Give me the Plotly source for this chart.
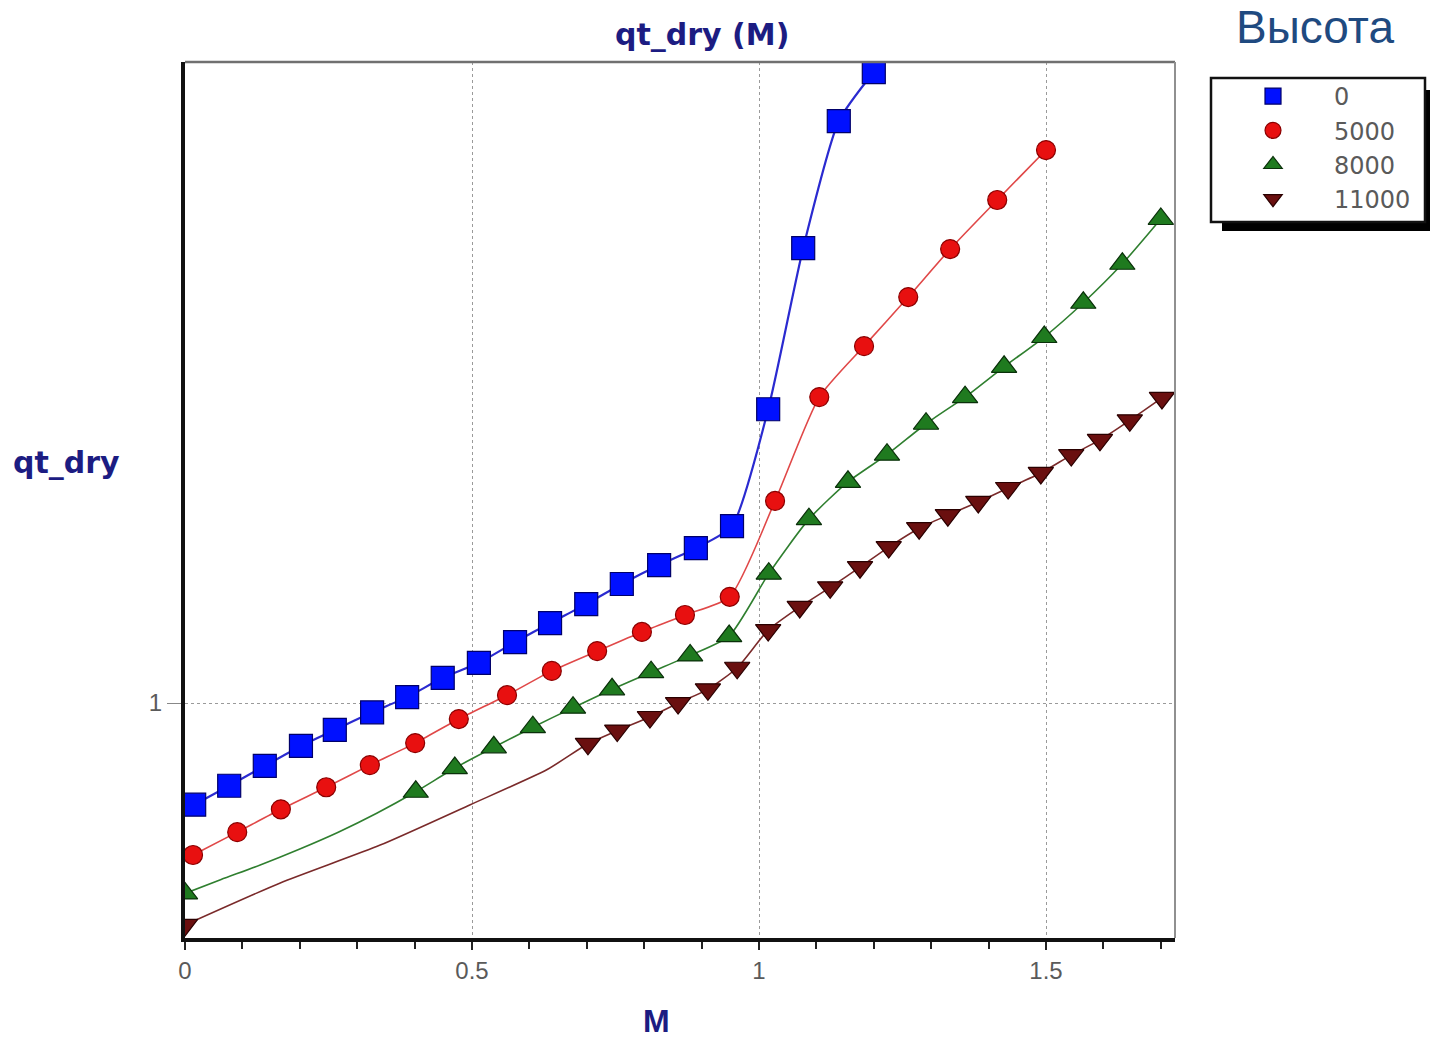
import plotly.graph_objects as go

# Mach number / qt_dry readings for four altitudes
alt_labels = ["0", "5000", "8000", "11000"]

m_0 = [0.016, 0.077, 0.139, 0.202, 0.261, 0.326, 0.387, 0.449, 0.512, 0.575,
       0.636, 0.699, 0.761, 0.826, 0.890, 0.953, 1.016, 1.077, 1.139, 1.200]
q_0 = [0.857, 0.882, 0.909, 0.937, 0.960, 0.986, 1.009, 1.039, 1.063, 1.097,
       1.129, 1.162, 1.198, 1.233, 1.265, 1.308, 1.562, 1.995, 2.419, 2.606]

m_5000 = [0.014, 0.091, 0.167, 0.246, 0.322, 0.401, 0.477, 0.561, 0.639, 0.718,
          0.796, 0.871, 0.949, 1.028, 1.105, 1.183, 1.260, 1.333, 1.415, 1.500]
q_5000 = [0.794, 0.822, 0.851, 0.880, 0.910, 0.941, 0.976, 1.012, 1.050, 1.082,
          1.114, 1.143, 1.175, 1.359, 1.591, 1.719, 1.852, 1.992, 2.146, 2.315]

m_8000 = [0.000, 0.063, 0.131, 0.199, 0.267, 0.334, 0.402, 0.470, 0.538, 0.606,
          0.676, 0.744, 0.812, 0.880, 0.948, 1.017, 1.087, 1.155, 1.223, 1.291,
          1.359, 1.427, 1.497, 1.565, 1.633, 1.700]
q_8000 = [0.749, 0.765, 0.782, 0.801, 0.822, 0.846, 0.874, 0.906, 0.935, 0.964,
          0.993, 1.021, 1.048, 1.075, 1.107, 1.217, 1.322, 1.399, 1.458, 1.528,
          1.591, 1.666, 1.743, 1.836, 1.948, 2.085]

m_11000 = [0.000, 0.166, 0.340, 0.497, 0.631, 0.702, 0.753, 0.810, 0.859, 0.911,
           0.962, 1.016, 1.071, 1.124, 1.176, 1.226, 1.279, 1.329, 1.382, 1.434,
           1.491, 1.544, 1.594, 1.646, 1.702]
q_11000 = [0.714, 0.761, 0.806, 0.857, 0.904, 0.940, 0.959, 0.979, 1.000, 1.021,
           1.055, 1.117, 1.157, 1.192, 1.229, 1.267, 1.304, 1.330, 1.357, 1.386,
           1.418, 1.457, 1.491, 1.536, 1.589]

x_ticks = [0, 0.5, 1, 1.5]
x_tick_text = ["0", "0.5", "1", "1.5"]
y_ticks = [1]
y_tick_text = ["1"]

# figure geometry (pixels)
W, H = 1430, 1038
L, R, T, B = 185, 1175, 62, 938


def px_x(p):
    return (p - L) / (R - L)


def px_y(p):
    return (B - p) / (B - T)


series = [
    dict(x=m_0, y=q_0, name=alt_labels[0], line="#2a2ad0", lw=2.2,
         symbol="square", size=23, fill="#0010ff", edge="#00006a", hidden=[]),
    dict(x=m_5000, y=q_5000, name=alt_labels[1], line="#e04848", lw=1.6,
         symbol="circle", size=19, fill="#e81010", edge="#8a0000", hidden=[]),
    dict(x=m_8000, y=q_8000, name=alt_labels[2], line="#2f7f2f", lw=1.6,
         symbol="triangle-up", size=22, fill="#1f7a1f", edge="#0a300a",
         hidden=[1, 2, 3, 4, 5]),
    dict(x=m_11000, y=q_11000, name=alt_labels[3], line="#7a2a2a", lw=1.6,
         symbol="triangle-down", size=22, fill="#6a0f0f", edge="#2a0000",
         hidden=[1, 2, 3, 4]),
]

fig = go.Figure()

for s in series:
    fig.add_trace(go.Scatter(
        x=s["x"], y=s["y"], mode="lines", showlegend=False, hoverinfo="skip",
        line=dict(color=s["line"], width=s["lw"], shape="spline", smoothing=0.6),
    ))

for s in series:
    keep = [i for i in range(len(s["x"])) if i not in s["hidden"]]
    fig.add_trace(go.Scatter(
        x=[s["x"][i] for i in keep], y=[s["y"][i] for i in keep],
        mode="markers", name=s["name"],
        marker=dict(symbol=s["symbol"], size=s["size"], color=s["fill"],
                    line=dict(color=s["edge"], width=1.2)),
    ))

grid = dict(showgrid=True, gridcolor="#9a9a9a", griddash="dot", gridwidth=1.2)
tick_font = dict(family="Liberation Sans Narrow, Liberation Sans, Arial",
                 size=24, color="#5a5a5a")

fig.update_xaxes(
    range=[0, (R - L) / 574.0], tickvals=x_ticks, ticktext=x_tick_text,
    ticks="outside", ticklen=8, tickwidth=1.5, tickcolor="#222",
    tickfont=tick_font,
    minor=dict(dtick=0.1, ticks="outside", ticklen=7, tickwidth=1.5,
               tickcolor="#222", showgrid=False),
    showline=True, linecolor="#111", linewidth=4, zeroline=False, **grid,
)
fig.update_yaxes(
    type="log", range=[-0.1549, 0.4226], tickvals=y_ticks, ticktext=y_tick_text,
    ticks="outside", ticklen=14, tickwidth=1.2, tickcolor="#888",
    tickfont=tick_font,
    showline=True, linecolor="#111", linewidth=4, zeroline=False, **grid,
)

title_font = dict(family="DejaVu Sans, Liberation Sans, Arial", size=30,
                  color="#1c1c82")


def label(text, cx, cy, font):
    return dict(text=text, x=px_x(cx), y=px_y(cy), xref="paper", yref="paper",
                xanchor="center", yanchor="middle", showarrow=False, font=font)


annotations = [
    label("<b>qt_dry (M)</b>", 702, 35, title_font),
    label("<b>qt_dry</b>", 66, 462, title_font),
    label("<b>M</b>", 656, 1021,
          dict(family="Liberation Sans, Arial", size=32, color="#1c1c82")),
    label("Высота", 1315, 27,
          dict(family="Liberation Sans, Arial", size=46, color="#1f4a80")),
]

shapes = [
    # top / right frame in grey
    dict(type="line", xref="paper", yref="paper", x0=0, x1=1, y0=1, y1=1,
         line=dict(color="#707070", width=2.5)),
    dict(type="line", xref="paper", yref="paper", x0=1, x1=1, y0=0, y1=1,
         line=dict(color="#909090", width=2)),
    # legend frame with drop shadow
    dict(type="rect", xref="paper", yref="paper",
         x0=px_x(1222), x1=px_x(1434), y0=px_y(231), y1=px_y(90),
         fillcolor="#000", line=dict(width=0), layer="above"),
    dict(type="rect", xref="paper", yref="paper",
         x0=px_x(1211), x1=px_x(1425), y0=px_y(222), y1=px_y(78),
         fillcolor="white", line=dict(color="#111", width=2.5), layer="above"),
]

fig.update_layout(
    width=W, height=H,
    margin=dict(l=L, r=W - R, t=T, b=H - B, pad=0),
    paper_bgcolor="white", plot_bgcolor="white",
    annotations=annotations, shapes=shapes,
    legend=dict(
        x=px_x(1212), y=px_y(74), xanchor="left", yanchor="top",
        bgcolor="rgba(0,0,0,0)", borderwidth=0,
        itemwidth=112, tracegroupgap=0,
        font=dict(family="DejaVu Sans, Liberation Sans, Arial", size=24,
                  color="#5a5a5a"),
    ),
    showlegend=True,
)

fig.write_html("out.html")
